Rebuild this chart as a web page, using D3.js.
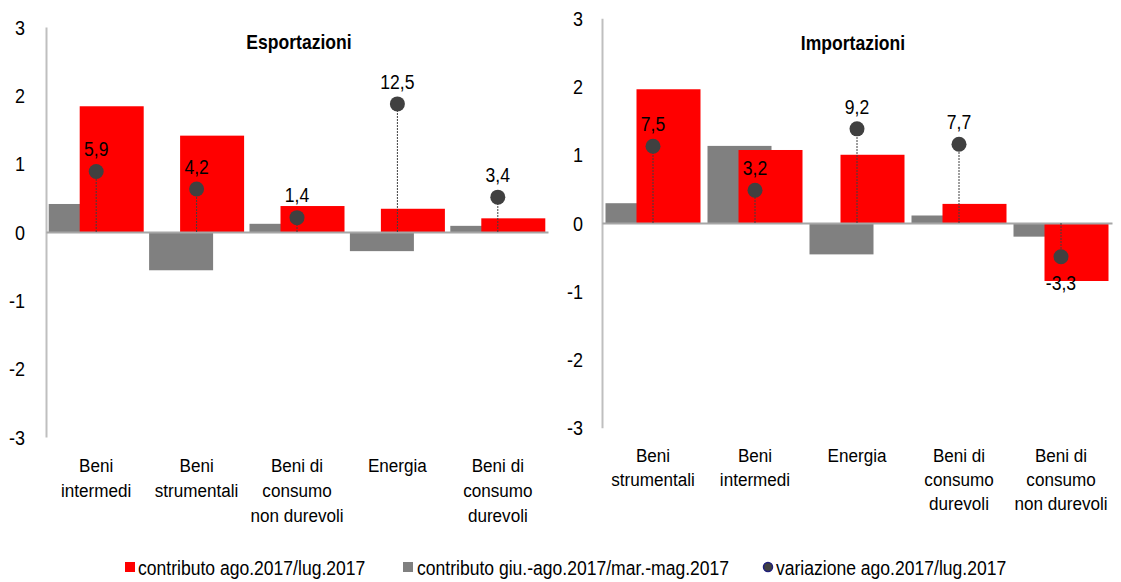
<!DOCTYPE html>
<html>
<head>
<meta charset="utf-8">
<script src="https://cdn.jsdelivr.net/npm/d3@7"></script>
<style>
body { margin: 0; background: #fff; }
svg text { font-family: "Liberation Sans", Arial, sans-serif; fill: #000; }
</style>
</head>
<body>
<div id="chart"></div>
<script>
// categories (line breaks as in the original)
var catsExp = ["Beni\nintermedi", "Beni\nstrumentali", "Beni di\nconsumo\nnon durevoli", "Energia", "Beni di\nconsumo\ndurevoli"]
var catsImp = ["Beni\nstrumentali", "Beni\nintermedi", "Energia", "Beni di\nconsumo\ndurevoli", "Beni di\nconsumo\nnon durevoli"]

// contributo ago.2017/lug.2017
var redExp = [1.84, 1.41, 0.38, 0.34, 0.20]
var redImp = [1.96, 1.07, 1.00, 0.28, -0.85]
// contributo giu.-ago.2017/mar.-mag.2017
var grayExp = [0.41, -0.56, 0.12, -0.28, 0.09]
var grayImp = [0.29, 1.13, -0.46, 0.11, -0.20]
// variazione ago.2017/lug.2017 (secondary axis)
var varExp = [5.9, 4.2, 1.4, 12.5, 3.4]
var varImp = [7.5, 3.2, 9.2, 7.7, -3.3]

var yTicks = [-3, -2, -1, 0, 1, 2, 3]
var legendLabels = ["contributo ago.2017/lug.2017", "contributo giu.-ago.2017/mar.-mag.2017", "variazione ago.2017/lug.2017"]

var it = d3.formatLocale({decimal: ",", thousands: ".", grouping: [3], currency: ["", "€"], minus: "-"})
var fmt = it.format(".1f")
var fmtTick = it.format("d")

var svg = d3.select("#chart")
  .append("svg")
  .attr("width", 1121)
  .attr("height", 582)

function panel(opts) {
  var g = svg.append("g")
  var y = d3.scaleLinear().domain([-3, 3]).range([opts.bottom, opts.top])
  var y2 = d3.scaleLinear().domain([-20, 20]).range([opts.bottom, opts.top])
  var x = d3.scaleBand().domain(opts.cats).range([opts.left, opts.right]).padding(0)
  var bw = 64
  var cx = function(d) { return x(d.cat) + x.bandwidth() / 2 }

  // y axis
  var ya = g.append("g")
    .attr("transform", "translate(" + opts.left + ",0)")
    .call(d3.axisLeft(y).tickValues(yTicks).tickSize(0).tickSizeOuter(0).tickPadding(opts.pad).tickFormat(fmtTick))
  ya.select(".domain").attr("stroke", "#bfbfbf").attr("stroke-width", 2)
  ya.selectAll("text").style("font-size", "20px").attr("dy", "0.35em")

  var data = opts.cats.map(function(c, i) {
    return {cat: c, red: opts.red[i], gray: opts.gray[i], v: opts.v[i]}
  })

  // gray bars
  g.selectAll(".gbar").data(data).enter().append("rect")
    .attr("x", function(d) { return cx(d) - 15.5 - bw / 2 })
    .attr("width", bw)
    .attr("y", function(d) { return y(Math.max(0, d.gray)) })
    .attr("height", function(d) { return Math.abs(y(d.gray) - y(0)) })
    .attr("fill", "#808080")

  // red bars
  g.selectAll(".rbar").data(data).enter().append("rect")
    .attr("x", function(d) { return cx(d) + 15.5 - bw / 2 })
    .attr("width", bw)
    .attr("y", function(d) { return y(Math.max(0, d.red)) })
    .attr("height", function(d) { return Math.abs(y(d.red) - y(0)) })
    .attr("fill", "#ff0000")

  // x axis at zero
  var xa = g.append("g")
    .attr("transform", "translate(0," + y(0) + ")")
    .call(d3.axisBottom(x).tickSize(0).tickSizeOuter(0).tickFormat(""))
  xa.select(".domain").attr("stroke", "#a6a6a6").attr("stroke-width", 2)

  // drop lines
  g.selectAll(".drop").data(data).enter().append("line")
    .attr("x1", cx)
    .attr("x2", cx)
    .attr("y1", y(0))
    .attr("y2", function(d) { return y2(d.v) })
    .attr("stroke", "#404040")
    .attr("stroke-width", 1)
    .attr("stroke-dasharray", "2,1")

  // dots
  g.selectAll(".dot").data(data).enter().append("circle")
    .attr("cx", cx)
    .attr("cy", function(d) { return y2(d.v) })
    .attr("r", 7.5)
    .attr("fill", "#404040")

  // value labels
  g.selectAll(".lbl").data(data).enter().append("text")
    .attr("x", cx)
    .attr("y", function(d) { return y2(d.v) + (d.v < 0 ? 26 : -22) })
    .attr("dy", "0.35em")
    .attr("text-anchor", "middle")
    .style("font-size", "19.5px")
    .text(function(d) { return fmt(d.v) })

  // category labels
  var cl = g.selectAll(".cat").data(data).enter().append("text")
    .attr("text-anchor", "middle")
    .style("font-size", "19px")
    .attr("transform", function(d) { return "translate(" + cx(d) + "," + (opts.bottom + 28) + ")" })
  cl.selectAll("tspan").data(function(d) { return d.cat.split("\n") }).enter().append("tspan")
    .attr("x", 0)
    .attr("y", function(d, i) { return i * opts.lh })
    .attr("dy", "0.35em")
    .text(function(d) { return d })

  // title
  g.append("text")
    .attr("x", opts.titleX)
    .attr("y", opts.titleY)
    .attr("dy", "0.35em")
    .attr("text-anchor", "middle")
    .style("font-size", "19.5px")
    .style("font-weight", "bold")
    .text(opts.title)
}

panel({cats: catsExp, red: redExp, gray: grayExp, v: varExp, left: 46, right: 548, top: 27, bottom: 437,
  pad: 21, lh: 25, title: "Esportazioni", titleX: 299, titleY: 42})
panel({cats: catsImp, red: redImp, gray: grayImp, v: varImp, left: 602, right: 1112, top: 18.3, bottom: 427.7,
  pad: 19, lh: 24, title: "Importazioni", titleX: 853, titleY: 43})

// legend
var leg = svg.append("g")
leg.append("rect").attr("x", 125).attr("y", 562).attr("width", 10).attr("height", 10).attr("fill", "#ff0000")
leg.append("rect").attr("x", 403).attr("y", 562).attr("width", 10).attr("height", 10).attr("fill", "#808080")
leg.append("circle").attr("cx", 768).attr("cy", 567).attr("r", 4.5).attr("fill", "#404040").attr("stroke", "#1f1f7a").attr("stroke-width", 1.5)
var lx = [138, 417, 776]
leg.selectAll(".lt").data(legendLabels).enter().append("text")
  .attr("x", function(d, i) { return lx[i] })
  .attr("y", 568)
  .attr("dy", "0.35em")
  .style("font-size", "19.5px")
  .text(function(d) { return d })

// narrow the type a little, like the Arial Narrow look of the original
var sx = 0.9
svg.selectAll("text").each(function() {
  var t = d3.select(this)
  var tr = t.attr("transform")
  if (tr) {
    t.attr("transform", tr + " scale(" + sx + ",1)")
  } else {
    var xv = +t.attr("x") || 0
    t.attr("x", xv / sx).attr("transform", "scale(" + sx + ",1)")
  }
})
</script>
</body>
</html>
